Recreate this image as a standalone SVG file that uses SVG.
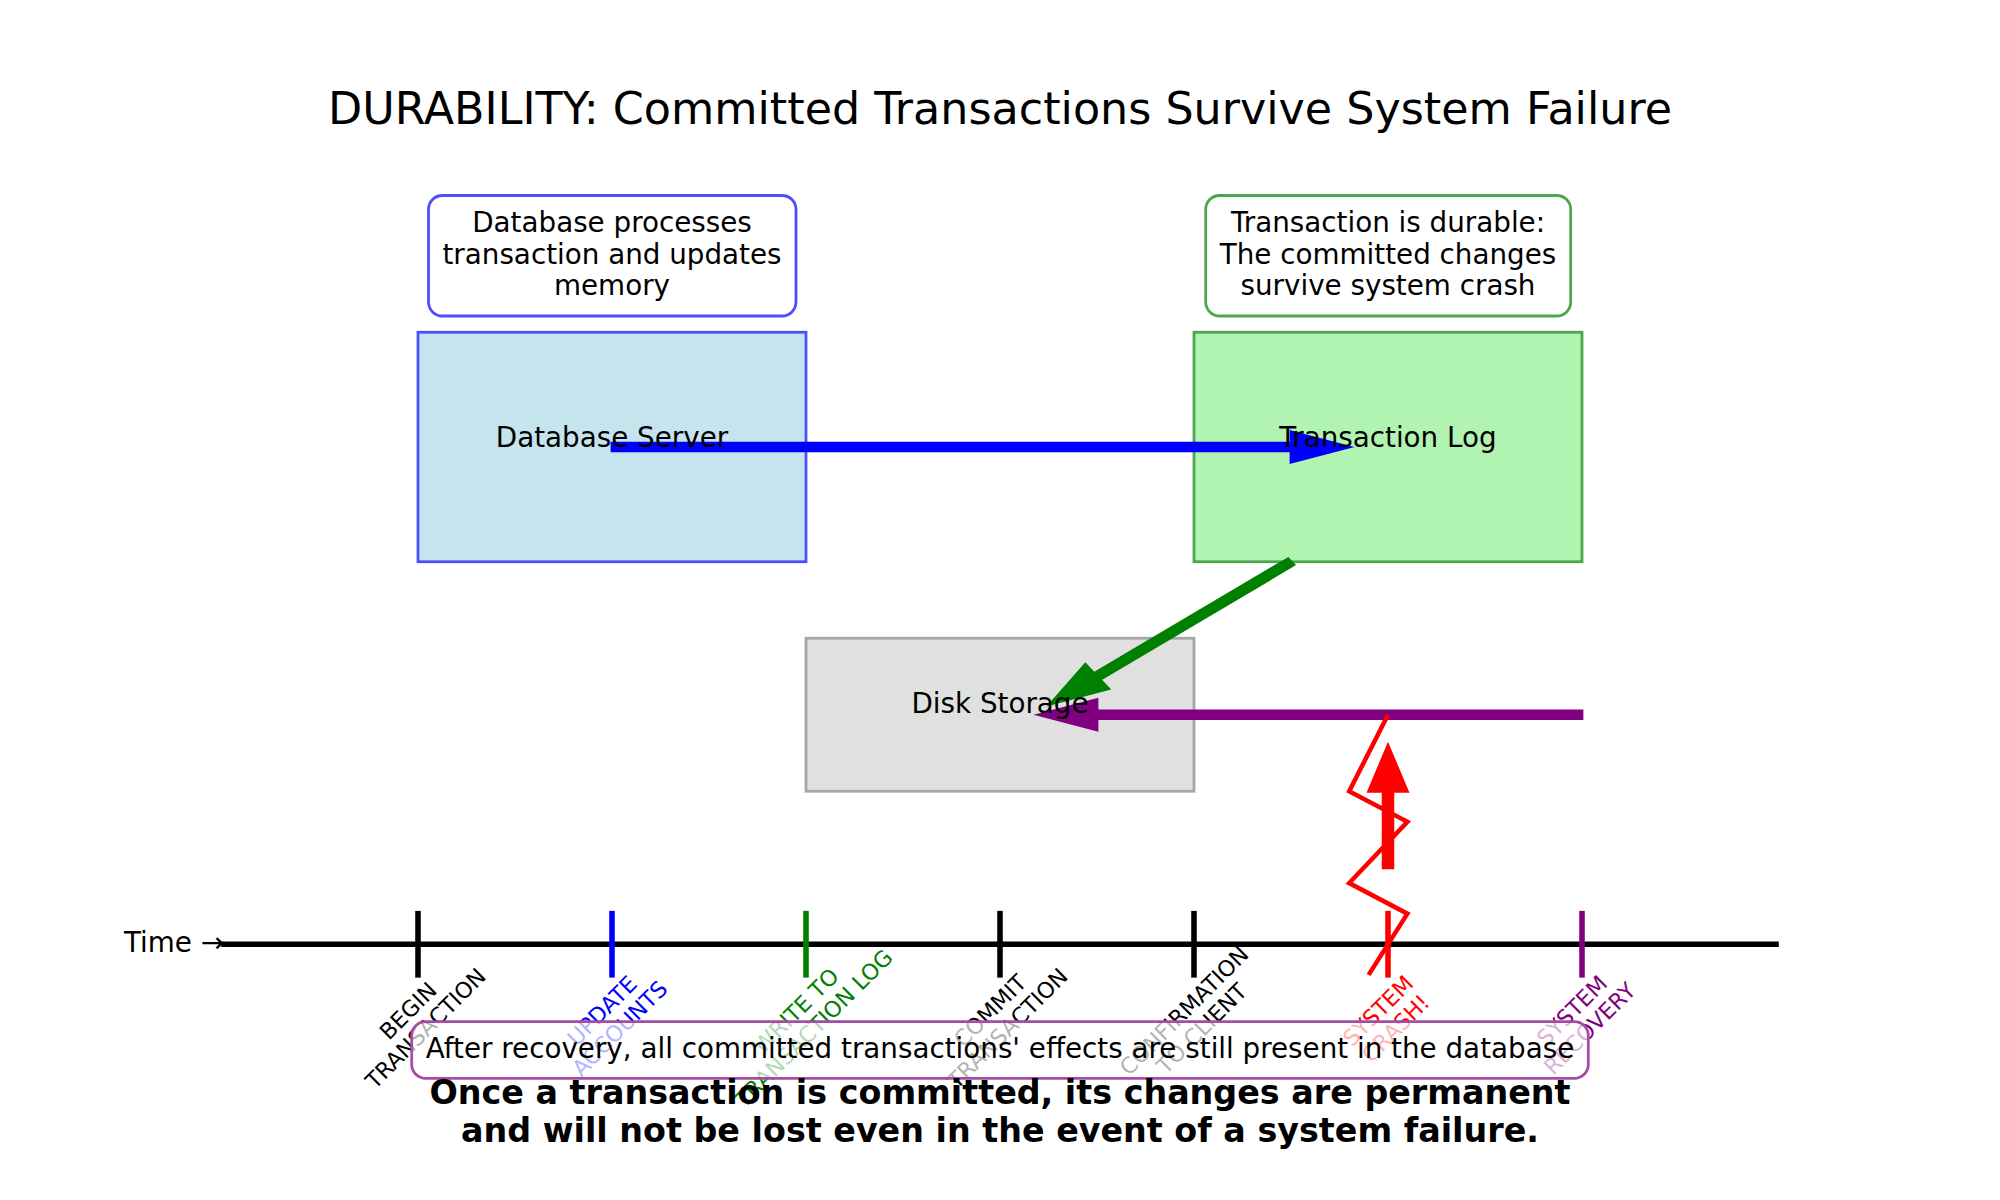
<svg xmlns="http://www.w3.org/2000/svg" width="2000" height="1200" viewBox="0 0 2000 1200">
<style>
text{font-family:"DejaVu Sans","Liberation Sans",sans-serif;fill:#000}
.box{stroke-width:2.78}
.note{fill:#fff;stroke-width:2.78}
.t28{font-size:27.78px;text-anchor:middle}
.lbl{font-size:22.2px;text-anchor:middle}
.arr{stroke-width:2.78;stroke-linejoin:miter}
.tick{stroke-width:5.56;stroke-linecap:square}
</style>
<rect width="2000" height="1200" fill="#fff"/>
<text x="1000" y="124" style="font-size:44.4px;text-anchor:middle">DURABILITY: Committed Transactions Survive System Failure</text>

<g id="node-db-server">
<rect class="box" x="418" y="332.25" width="388" height="229.5" fill="#c6e4ee" stroke="#4d4dff"/>
</g>
<g id="node-transaction-log">
<rect class="box" x="1194" y="332.25" width="388" height="229.5" fill="#b1f3b1" stroke="#4da64d"/>
</g>
<g id="node-disk-storage">
<rect class="box" x="806" y="638.25" width="388" height="153" fill="#e0e0e0" stroke="#a6a6a6"/>
</g>

<g id="timeline">
<line x1="224" y1="944.25" x2="1776" y2="944.25" stroke="#000" stroke-width="5.56" stroke-linecap="square"/>
<text x="224" y="952" style="font-size:27.78px;text-anchor:end">Time →</text>
<line class="tick" x1="418" y1="913.65" x2="418" y2="974.85" stroke="#000"/>
<line class="tick" x1="612" y1="913.65" x2="612" y2="974.85" stroke="#0000ff"/>
<line class="tick" x1="806" y1="913.65" x2="806" y2="974.85" stroke="#008000"/>
<line class="tick" x1="1000" y1="913.65" x2="1000" y2="974.85" stroke="#000"/>
<line class="tick" x1="1194" y1="913.65" x2="1194" y2="974.85" stroke="#000"/>
<line class="tick" x1="1388" y1="913.65" x2="1388" y2="974.85" stroke="#ff0000"/>
<line class="tick" x1="1582" y1="913.65" x2="1582" y2="974.85" stroke="#800080"/>
</g>

<g id="connectors">
<polygon class="arr" fill="#0000ff" stroke="#0000ff" points="1349.2,447 1291,431.7 1291,443.2 612,443.2 612,450.8 1291,450.8 1291,462.3"/>
<polygon class="arr" fill="#008000" stroke="#008000" points="1050.44,704.04 1085.36,664.26 1094.09,673.44 1288.09,558.69 1293.91,564.81 1099.91,679.56 1108.64,688.74"/>
<polygon class="arr" fill="#800080" stroke="#800080" points="1038.8,714.75 1097,699.45 1097,710.9 1582,710.9 1582,718.6 1097,718.6 1097,730.05"/>
<polygon class="arr" fill="#ff0000" stroke="#ff0000" points="1388,745.35 1368.6,791.25 1383.15,791.25 1383.15,867.75 1392.85,867.75 1392.85,791.25 1407.4,791.25"/>
<polyline fill="none" stroke="#ff0000" stroke-width="4.5" points="1388,714.75 1349.2,791.25 1407.4,821.85 1349.2,883.05 1407.4,913.65 1368.6,974.85"/>
</g>

<g id="node-labels">
<text class="t28" x="612" y="447">Database Server</text>
<text class="t28" x="1388" y="447">Transaction Log</text>
<text class="t28" x="1000" y="713">Disk Storage</text>
</g>

<g id="note-db">
<rect class="note" x="428.5" y="195.5" width="367.5" height="120.5" rx="13.9" stroke="#4d4dff"/>
<text class="t28" x="612" y="232.4">Database processes</text>
<text class="t28" x="612" y="263.5">transaction and updates</text>
<text class="t28" x="612" y="294.6">memory</text>
</g>
<g id="note-log">
<rect class="note" x="1205.7" y="195.5" width="365" height="120.5" rx="13.9" stroke="#4da64d"/>
<text class="t28" x="1388" y="232.4">Transaction is durable:</text>
<text class="t28" x="1388" y="263.5">The committed changes</text>
<text class="t28" x="1388" y="294.6">survive system crash</text>
</g>

<g id="event-labels">
<text class="lbl" transform="translate(418,1020.75) rotate(-45)"><tspan x="0" y="-6.3">BEGIN</tspan><tspan x="0" y="18.6">TRANSACTION</tspan></text>
<text class="lbl" transform="translate(612,1020.75) rotate(-45)" style="fill:#0000ff"><tspan x="0" y="-6.3">UPDATE</tspan><tspan x="0" y="18.6">ACCOUNTS</tspan></text>
<text class="lbl" transform="translate(806,1020.75) rotate(-45)" style="fill:#008000"><tspan x="0" y="-6.3">WRITE TO</tspan><tspan x="0" y="18.6">TRANSACTION LOG</tspan></text>
<text class="lbl" transform="translate(1000,1020.75) rotate(-45)"><tspan x="0" y="-6.3">COMMIT</tspan><tspan x="0" y="18.6">TRANSACTION</tspan></text>
<text class="lbl" transform="translate(1194,1020.75) rotate(-45)"><tspan x="0" y="-6.3">CONFIRMATION</tspan><tspan x="0" y="18.6">TO CLIENT</tspan></text>
<text class="lbl" transform="translate(1388,1020.75) rotate(-45)" style="fill:#ff0000"><tspan x="0" y="-6.3">SYSTEM</tspan><tspan x="0" y="18.6">CRASH!</tspan></text>
<text class="lbl" transform="translate(1582,1020.75) rotate(-45)" style="fill:#800080"><tspan x="0" y="-6.3">SYSTEM</tspan><tspan x="0" y="18.6">RECOVERY</tspan></text>
</g>

<g id="note-recovery">
<rect x="411.7" y="1021.7" width="1176.6" height="56.6" rx="13.9" fill="#fff" fill-opacity="0.7" stroke="#a64ca6" stroke-width="2.78"/>
<text class="t28" x="1000" y="1058">After recovery, all committed transactions' effects are still present in the database</text>
</g>

<g id="footer">
<text x="1000" y="1104.3" style="font-size:33.33px;font-weight:bold;text-anchor:middle">Once a transaction is committed, its changes are permanent</text>
<text x="1000" y="1141.6" style="font-size:33.33px;font-weight:bold;text-anchor:middle">and will not be lost even in the event of a system failure.</text>
</g>
</svg>
